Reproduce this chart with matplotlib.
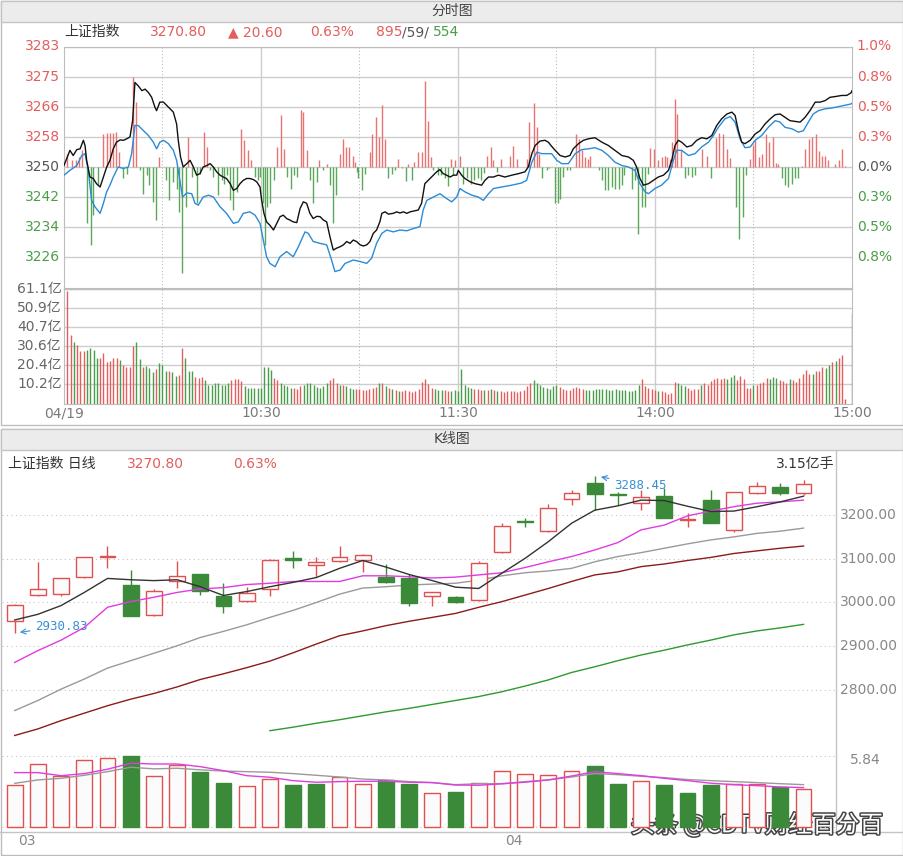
import matplotlib.pyplot as plt
import matplotlib.patheffects as pe
from matplotlib.patches import Rectangle
import numpy as np

plt.rcParams['font.family'] = ['DejaVu Sans', 'Noto Sans CJK SC']

# ---------------- intraday (分时) ----------------
prev_close = 3250.20
last_price = 3270.80
change = 20.60
change_pct = '0.63%'
breadth = ['895', '59', '554']

pct_steps = [1.0, 0.75, 0.5, 0.25, 0.0, -0.25, -0.5, -0.75]
left_labels = ['3283', '3275', '3266', '3258', '3250', '3242', '3234', '3226']
right_labels = ['1.0%', '0.8%', '0.5%', '0.3%', '0.0%', '0.3%', '0.5%', '0.8%']
vol_labels = ['61.1亿', '50.9亿', '40.7亿', '30.6亿', '20.4亿', '10.2亿']
vol_levels = [61.1, 50.9, 40.7, 30.6, 20.4, 10.2]
time_labels = ['04/19', '10:30', '11:30', '14:00', '15:00']
time_pos = [0, 60, 120, 180, 240]

# index line (black), minutes since 9:30 (afternoon continues at 120)
idx_min = [0, 1.8, 2.8, 3.9, 4.9, 5.9, 6.4, 6.9, 7.9, 8.9, 9.9, 11.0, 12.0, 13.0, 14.0, 15.0, 16.0,
           17.1, 18.1, 19.1, 20.1, 20.9, 21.6, 22.6, 23.7, 24.7, 25.7, 26.7, 27.7, 28.2, 29.2, 30.3,
           31.3, 32.3, 33.3, 34.3, 34.8, 35.5, 36.3, 37.4, 38.4, 39.4, 40.4, 41.4, 42.4, 43.5, 44.5,
           45.5, 46.5, 47.5, 48.5, 49.5, 50.6, 51.6, 52.6, 53.6, 54.6, 55.6, 56.6, 57.7, 58.7, 59.7,
           60.2, 60.9, 61.7, 62.7, 63.8, 64.8, 65.8, 66.8, 67.8, 68.8, 69.8, 70.9, 71.9, 72.9, 73.9,
           74.9, 75.9, 77.0, 78.0, 79.0, 80.0, 81.0, 82.0, 83.0, 84.1, 85.1, 86.1, 87.1, 88.1, 89.1,
           90.2, 91.2, 92.2, 93.2, 94.2, 95.2, 96.2, 96.8, 97.8, 98.8, 100.3, 101.3, 102.3, 103.4,
           104.4, 105.4, 106.4, 107.9, 108.9, 109.9, 111.5, 112.5, 113.5, 114.5, 115.5, 116.5, 117.6,
           118.6, 119.6, 120.1, 121.1, 122.1, 123.7, 125.2, 127.2, 128.2, 129.3, 130.8, 132.3, 134.3,
           136.4, 138.4, 140.4, 141.4, 142.5, 143.5, 145.0, 146.5, 147.5, 148.5, 149.6, 151.1, 152.6,
           154.1, 155.1, 156.7, 158.2, 159.7, 161.7, 163.8, 165.8, 167.8, 169.9, 171.9, 173.4, 174.4,
           175.4, 176.5, 178.0, 179.5, 181.0, 182.6, 184.1, 185.1, 186.1, 187.1, 188.1, 189.7, 191.2,
           192.7, 194.2, 195.8, 197.3, 198.8, 200.3, 201.9, 203.4, 204.4, 205.4, 206.4, 207.4, 209.0,
           210.5, 212.0, 213.5, 215.1, 216.6, 218.1, 219.6, 221.1, 222.7, 224.2, 225.7, 227.2, 228.8,
           230.3, 231.8, 233.3, 234.9, 236.9, 238.4, 239.7, 240]
idx_val = [3250.6, 3254.7, 3253.3, 3254.9, 3255.1, 3257.4, 3256.0, 3252.0, 3247.5, 3247.1, 3245.7,
           3244.8, 3247.5, 3250.2, 3252.0, 3255.1, 3256.9, 3257.5, 3257.4, 3257.8, 3258.3, 3262.7,
           3273.0, 3272.1, 3270.8, 3271.2, 3270.3, 3269.0, 3266.3, 3265.4, 3267.7, 3267.7, 3266.8,
           3265.9, 3265.0, 3261.8, 3257.4, 3252.9, 3250.2, 3251.1, 3252.0, 3250.2, 3248.0, 3248.4,
           3250.2, 3250.6, 3251.1, 3250.2, 3248.9, 3248.0, 3247.5, 3247.1, 3245.7, 3243.9, 3244.4,
           3245.7, 3246.6, 3247.1, 3247.1, 3246.8, 3246.2, 3244.8, 3241.2, 3237.7, 3235.4, 3234.5,
           3233.2, 3235.0, 3236.8, 3237.2, 3236.3, 3235.9, 3235.4, 3235.2, 3239.0, 3240.8, 3240.4,
           3237.7, 3236.3, 3236.9, 3236.8, 3235.9, 3235.4, 3231.4, 3227.8, 3228.3, 3228.7, 3229.2,
           3230.1, 3229.6, 3230.5, 3230.1, 3229.2, 3228.9, 3229.2, 3230.1, 3232.3, 3233.2, 3235.4,
           3237.7, 3238.1, 3237.5, 3237.7, 3238.1, 3237.8, 3238.1, 3237.7, 3238.1, 3238.3, 3238.6,
           3240.4, 3245.7, 3247.1, 3248.0, 3248.9, 3249.5, 3248.4, 3248.0, 3247.5, 3248.0, 3248.0,
           3249.3, 3248.0, 3247.1, 3246.2, 3245.7, 3245.3, 3246.6, 3247.5, 3247.5, 3248.0, 3247.5,
           3248.0, 3248.4, 3248.9, 3250.2, 3253.8, 3256.0, 3257.2, 3257.4, 3256.9, 3255.8, 3254.7,
           3253.3, 3252.9, 3253.3, 3255.1, 3256.5, 3257.4, 3257.8, 3258.1, 3256.9, 3256.0, 3254.7,
           3253.3, 3252.9, 3252.0, 3250.2, 3247.1, 3245.3, 3245.7, 3246.6, 3247.5, 3248.0, 3249.3,
           3252.0, 3256.0, 3257.4, 3256.9, 3255.6, 3256.0, 3257.4, 3258.1, 3257.8, 3258.7, 3261.4,
           3263.2, 3264.5, 3265.0, 3264.1, 3260.0, 3256.9, 3256.5, 3257.4, 3259.1, 3260.0, 3261.8,
           3263.2, 3264.3, 3264.5, 3263.6, 3262.7, 3262.5, 3262.3, 3263.6, 3265.4, 3267.7, 3267.7,
           3268.1, 3269.0, 3269.2, 3269.5, 3269.5, 3270.2, 3270.8]

# leading line (blue)
lead_min = [0, 1.8, 3.9, 5.4, 6.4, 7.4, 8.4, 9.4, 11.0, 12.0, 13.0, 14.0, 15.0, 16.5, 18.1, 19.6,
            20.6, 21.6, 22.6, 24.2, 25.7, 27.2, 28.2, 29.2, 30.3, 31.8, 33.3, 34.3, 35.3, 36.1, 37.4,
            38.9, 39.9, 40.9, 42.4, 44.0, 45.5, 47.5, 49.5, 51.6, 53.1, 54.6, 56.6, 58.2, 59.7, 60.7,
            61.7, 62.7, 64.3, 65.8, 67.8, 69.8, 71.4, 73.4, 74.4, 75.9, 78.0, 80.0, 81.5, 82.5, 84.1,
            85.6, 88.1, 90.2, 92.2, 93.7, 95.2, 96.8, 98.3, 100.3, 102.3, 104.4, 106.4, 108.4, 109.4,
            110.5, 112.5, 114.5, 116.5, 118.1, 119.6, 120.6, 122.1, 124.2, 126.2, 127.7, 129.3, 130.8,
            133.3, 136.4, 139.4, 140.9, 142.5, 144.0, 145.5, 148.5, 150.1, 151.6, 153.6, 155.7, 157.7,
            159.7, 161.7, 163.8, 165.8, 167.8, 169.9, 171.9, 173.9, 175.4, 177.0, 178.0, 180.0, 182.0,
            184.1, 185.6, 186.6, 188.1, 190.2, 192.2, 194.2, 196.3, 197.8, 199.3, 201.3, 202.9, 204.4,
            205.9, 207.4, 209.0, 210.5, 212.5, 214.5, 216.6, 218.1, 219.6, 221.7, 223.7, 225.2, 226.7,
            228.2, 229.8, 231.8, 233.8, 235.9, 237.9, 239.7, 240]
lead_val = [3248.0, 3249.3, 3250.6, 3253.3, 3253.8, 3249.3, 3241.2, 3239.5, 3237.7, 3240.4, 3243.5,
            3245.3, 3247.5, 3250.2, 3249.8, 3250.2, 3253.8, 3261.4, 3261.4, 3260.0, 3258.7, 3256.9,
            3255.1, 3256.9, 3257.4, 3256.5, 3254.7, 3252.0, 3246.6, 3242.1, 3243.2, 3243.0, 3240.4,
            3239.9, 3242.1, 3242.6, 3242.1, 3239.5, 3237.7, 3235.0, 3235.4, 3237.7, 3238.1, 3237.2,
            3235.0, 3230.5, 3226.0, 3224.2, 3223.3, 3226.0, 3227.4, 3226.0, 3228.7, 3232.7, 3232.3,
            3230.1, 3229.6, 3229.2, 3225.1, 3222.0, 3222.4, 3224.2, 3225.1, 3224.7, 3224.2, 3225.6,
            3229.6, 3232.3, 3233.2, 3232.7, 3233.2, 3233.0, 3233.6, 3234.1, 3238.6, 3241.2, 3242.1,
            3243.0, 3241.7, 3240.8, 3242.1, 3244.4, 3243.5, 3242.6, 3242.1, 3241.2, 3243.0, 3244.4,
            3244.8, 3245.3, 3245.9, 3246.6, 3251.5, 3254.2, 3253.8, 3253.8, 3252.0, 3251.1, 3251.1,
            3253.8, 3254.9, 3255.1, 3255.4, 3254.7, 3253.3, 3251.5, 3250.6, 3250.2, 3249.3, 3245.7,
            3243.5, 3243.0, 3244.4, 3245.3, 3247.1, 3252.0, 3254.7, 3254.7, 3253.3, 3253.8, 3255.6,
            3256.9, 3258.7, 3260.9, 3263.2, 3263.8, 3262.3, 3257.8, 3255.4, 3255.6, 3257.4, 3258.7,
            3260.9, 3262.7, 3262.3, 3260.9, 3260.5, 3259.6, 3260.0, 3262.3, 3264.5, 3265.4, 3265.9,
            3266.1, 3266.5, 3266.9, 3267.2, 3267.4]

# buy/sell strength bars around the previous close (points)
bar_min = [1.0, 2.3, 3.7, 4.7, 5.5, 12.0, 13.0, 14.0, 15.0, 15.8, 16.9, 21.1, 21.9, 28.9, 37.9, 42.6,
           43.7, 53.8, 54.9, 56.1, 57.0, 64.8, 66.0, 67.0, 72.1, 72.7, 73.9, 77.8, 80.2, 84.1, 85.1,
           85.9, 86.9, 87.9, 88.6, 93.2, 93.9, 94.9, 96.0, 96.8, 97.8, 101.8, 104.9, 106.6, 107.9,
           108.9, 110.0, 111.0, 111.7, 117.8, 119.1,
           6.9, 8.2, 8.9, 10.5, 18.1, 19.1, 23.1, 24.2, 25.2, 26.0, 27.0, 28.0, 31.1, 32.1, 33.1, 34.3,
           35.0, 36.0, 37.2, 38.9, 40.4, 41.4, 44.5, 45.5, 47.0, 48.0, 48.7, 49.7, 50.6, 51.6, 52.6,
           58.2, 59.0, 59.7, 60.5, 61.2, 61.9, 62.7, 64.1, 67.8, 69.0, 70.1, 70.9, 74.9, 75.9, 77.0,
           79.0, 81.0, 81.8, 82.8, 89.1, 89.6, 90.7, 91.7, 98.8, 99.8, 100.8, 102.9, 104.2, 105.9,
           112.5, 114.0, 114.8, 116.1, 117.1, 118.6,
           120.6, 128.7, 130.0, 130.8, 133.1, 135.9, 136.9, 137.9, 140.9, 141.6, 143.0, 144.0, 144.7,
           155.9, 156.9, 157.7, 158.7, 159.5, 160.3, 178.5, 179.8, 181.0, 182.0, 182.9, 183.8, 184.6,
           185.1, 186.1, 186.8, 187.9, 194.4, 195.8, 198.5, 199.6, 200.6, 201.9, 202.9, 209.0, 209.8,
           210.5, 211.7, 212.7, 213.7, 214.7, 215.8, 216.8, 217.6, 224.7, 225.7, 226.9, 227.9, 229.0,
           229.8, 230.8, 231.8, 232.6, 234.7, 235.9, 236.9, 237.9,
           121.6, 122.7, 124.0, 125.0, 126.0, 127.0, 128.0, 131.8, 145.7, 147.0, 147.8, 149.6, 150.4,
           151.1, 152.1, 153.1, 154.1, 162.8, 163.8, 164.8, 165.8, 166.8, 167.8, 168.9, 169.9, 170.7,
           172.9, 173.9, 174.9, 176.0, 177.0, 177.8, 189.2, 190.2, 191.2, 192.2, 197.1, 204.7, 205.7,
           206.7, 207.7, 218.6, 219.6, 220.6, 221.6, 222.7, 223.7]
bar_val = [3.6, 1.8, 1.8, 2.7, 4.5, 9.0, 9.1, 9.1, 9.1, 9.4, 4.0, 24.4, 17.5, 2.7, 8.2, 9.4,
           5.4, 10.3, 7.3, 4.5, 1.8, 5.4, 14.1, 4.9, 15.4, 14.8, 4.7, 2.0, 0.9, 3.6, 7.6,
           5.4, 5.4, 3.1, 1.3, 4.0, 8.8, 13.4, 8.2, 16.8, 7.6, 2.2, 0.7, 1.3, 4.0,
           4.0, 23.3, 12.5, 2.7, 2.2, 2.0,
           -15.2, -21.0, -13.0, -4.9, -3.1, -1.8, -0.9, -7.2, -2.2, -4.9, -9.4, -14.3, -3.6, -9.0,
           -4.0, -5.8, -12.1, -28.6, -10.7, -2.7, -9.8, -1.8, -0.9, -2.7, -7.6, -3.6, -4.5, -2.2,
           -9.0, -11.6, -6.7, -2.7, -3.6, -2.7, -9.8, -21.0, -10.7, -9.8, -3.6, -2.7, -5.8, -2.2,
           -2.7, -3.6, -9.8, -4.0, -0.9, -4.9, -15.2, -7.6, -1.3, -3.1, -6.3, -1.8, -2.9, -1.8,
           -0.9, -0.4, -3.8, -3.6, -0.9, -2.2, -2.2, -3.1, -5.1, -2.2,
           3.1, 3.1, 5.4, 1.8, 2.2, 3.1, 5.6, 2.2, 2.2, 12.1, 17.2, 10.9, 3.6,
           9.0, 7.6, 4.5, 2.7, 2.2, 2.9, 5.2, 4.9, 2.0, 2.7, 3.1, 2.7, 2.2,
           6.7, 18.4, 14.3, 4.5, 4.9, 3.1, 7.9, 9.1, 8.8, 4.9, 2.5, 2.2, 5.8,
           7.2, 2.7, 3.6, 9.0, 6.7, 8.1, 1.1, 0.9, 0.4, 4.9, 7.6, 8.1, 9.0,
           4.3, 3.1, 3.0, 2.0, 0.9, 1.8, 4.9, 0.4,
           -4.5, -3.1, -4.5, -3.6, -3.1, -3.6, -1.6, -1.3, -3.1, -0.9, -0.4, -9.8, -9.8,
           -8.5, -2.7, -0.9, -0.9, -0.9, -3.6, -6.3, -6.3, -5.4, -5.8, -5.8, -4.9, -2.2,
           -5.8, -3.6, -18.1, -10.7, -10.7, -1.8, -3.1, -2.2, -2.7, -2.2, -3.1, -10.7, -19.4,
           -13.6, -2.2, -3.1, -4.9, -5.4, -4.5, -3.1, -3.1]

# minute turnover (亿), one bar per minute from 9:31 to 15:00; 'r' up / 'g' down
vol_start = 1
vol_min = [60.2, 36.5, 32.9, 31.2, 27.9, 27.9, 28.5, 29.4, 28.5, 24.4, 24.4, 27.2, 22.3, 22.6, 24.4,
           24.4, 23.1, 20.5, 19.6, 19.6, 30.8, 32.9, 23.7, 19.6, 20.1, 18.7, 16.6, 18.3, 21.4, 20.8,
           17.3, 17.3, 16.9, 14.8, 15.1, 29.7, 24.4, 17.3, 17.3, 14.2, 13.7, 14.2, 12.5, 9.8, 9.8,
           10.7, 11.2, 9.8, 9.8, 10.7, 12.5, 13.0, 13.0, 11.9, 9.4, 8.4, 8.4, 8.4, 8.4, 8.4, 19.6,
           19.6, 17.8, 13.4, 12.5, 10.7, 9.8, 9.4, 8.4, 8.4, 8.0,
           9.4, 9.8, 11.2, 10.7, 9.8, 8.9, 8.4, 9.4, 10.7, 12.5, 13.4,
           11.2, 10.1, 9.8, 9.4, 8.4, 7.7, 8.0, 7.5, 7.1, 7.4, 8.0, 8.4, 9.0,
           10.7, 11.2, 9.4, 8.4, 7.7, 7.1, 6.6, 6.8, 7.1, 6.6, 6.3, 6.8, 7.7,
           11.6, 13.0, 10.2, 8.4, 7.7, 7.1, 7.4, 7.1, 6.8, 6.6, 7.1, 6.8,
           18.3, 9.8, 9.0, 8.4, 8.0, 7.7, 7.4, 7.1, 7.4, 7.7, 7.1, 6.8, 6.6, 6.3, 6.6, 6.8, 6.6, 6.3,
           6.6, 7.1, 9.4, 11.2, 12.5, 10.7, 9.8, 9.0, 8.4, 8.0, 9.4, 9.8, 8.9, 8.0, 7.4, 7.1,
           8.4, 9.0, 8.4, 7.7, 7.4, 7.1, 7.4, 7.7,
           7.7, 7.7, 7.7, 7.1, 7.1, 8.0, 7.1, 7.1, 7.1, 6.6, 6.6, 7.1, 10.1, 13.0, 9.4, 8.4, 7.7,
           7.1, 6.6, 6.6, 5.9, 5.3, 5.7, 11.6, 11.2, 10.1, 9.4, 8.4, 7.1, 7.7, 8.0, 9.8, 11.2, 10.1,
           11.9, 13.0, 13.4, 13.0, 13.7, 13.0, 14.2, 15.1, 12.5, 14.8, 13.0, 8.4, 8.4, 9.8, 9.8, 10.7,
           11.6, 13.4, 13.0, 14.2, 13.4, 12.3, 11.9, 11.2, 13.0, 12.3, 11.6, 13.4, 15.5, 17.8, 16.0,
           16.0, 17.3, 17.3, 19.6, 19.0, 20.5, 21.9, 22.6, 24.4, 25.8, 2.3, 0.0, 48.1]
vol_dir = ('rrgrrrggggrrrrrrgrrrrggrgggrgggrggrrgggrrrggggggggrrrrgggggggggrrgggg'
           'rrrggggggggrrrgrgggrrrrrrrgrgrgrgrrrrrrrrrrgggrrg'
           'ggggggrrrgrgrgrrrrrrrrrrggggggggrrrrrrrrgg'
           'gggggggggggggggrrrrrgrrrrrgggrrrrgrrrrrrrgggrrrrrgrrrrgggrrrgrrrrrrgrrrggrgrr')

# ---------------- daily K line (日线) ----------------
k_open = [2958, 3017, 3019, 3059, 3103, 3041, 2972, 3050, 3064, 3015, 3004, 3030, 3101, 3086, 3095,
          3097, 3059, 3057, 3014, 3013, 3006, 3115, 3187, 3163, 3236, 3274, 3248, 3227, 3243, 3188,
          3234, 3166, 3250, 3263, 3250]
k_high = [2997, 3093, 3057, 3105, 3130, 3075, 3030, 3094, 3066, 3044, 3035, 3100, 3117, 3104, 3128,
          3110, 3089, 3065, 3025, 3014, 3094, 3181, 3192, 3224, 3257, 3288.45, 3253, 3257, 3261, 3204,
          3257, 3253, 3276, 3272, 3280]
k_low = [2930.83, 3014, 3015, 3055, 3078, 2969, 2968, 3034, 3017, 2975, 3000, 3014, 3079, 3058, 3092,
         3069, 3045, 2992, 2992, 2998, 3004, 3113, 3172, 3160, 3223, 3211, 3223, 3211, 3192, 3173,
         3182, 3162, 3247, 3246, 3245]
k_close = [2995, 3030, 3055, 3104, 3106, 2970, 3027, 3060, 3027, 2991, 3022, 3096, 3098, 3093, 3104,
           3108, 3046, 2999, 3024, 3000, 3091, 3175, 3184, 3217, 3250, 3248, 3245, 3242, 3192, 3191,
           3182, 3253, 3266, 3250.2, 3270.8]
ma5 = [2960, 2973, 2993, 3023, 3055, 3052, 3050, 3052, 3036, 3016, 3025, 3036, 3046, 3057, 3078, 3096,
       3081, 3064, 3050, 3035, 3032, 3067, 3101, 3139, 3181, 3211, 3221, 3234, 3233, 3220, 3208, 3209,
       3219, 3230, 3243]
ma10 = [2863, 2890, 2914, 2943, 2989, 3002, 3012, 3023, 3031, 3034, 3041, 3044, 3048, 3048, 3048,
        3061, 3061, 3059, 3056, 3058, 3063, 3068, 3080, 3093, 3105, 3120, 3137, 3166, 3177, 3198,
        3209, 3219, 3227, 3230, 3234]
ma20 = [2753, 2776, 2802, 2825, 2850, 2867, 2884, 2901, 2920, 2934, 2949, 2966, 2982, 3000, 3019,
        3033, 3036, 3040, 3042, 3044, 3051, 3061, 3068, 3072, 3078, 3093, 3105, 3114, 3124, 3134,
        3143, 3150, 3158, 3163, 3170]
ma30 = [2696, 2711, 2730, 2747, 2764, 2779, 2792, 2807, 2824, 2837, 2851, 2866, 2885, 2905, 2924,
        2935, 2947, 2957, 2966, 2975, 2989, 3002, 3017, 3032, 3048, 3063, 3070, 3082, 3088, 3096,
        3103, 3112, 3118, 3124, 3129]
ma60_start = 11
ma60 = [2707, 2715, 2724, 2732, 2741, 2750, 2758, 2767, 2776, 2785, 2796, 2809, 2823, 2840, 2853,
        2867, 2880, 2891, 2903, 2914, 2926, 2935, 2942, 2950]
k_vol = [3.43, 5.21, 4.17, 5.49, 5.70, 5.84, 4.17, 5.13, 4.52, 3.65, 3.35, 3.98, 3.48, 3.56, 4.11,
         3.56, 3.84, 3.51, 2.82, 2.87, 3.62, 4.58, 4.39, 4.25, 4.58, 5.02, 3.56, 3.78, 3.48, 2.82,
         3.48, 3.56, 3.56, 3.29, 3.15]
k_vol_dir = 'rrrrrgrrggrrggrrggrgrrrrrggrgggrrgr'
vma5 = [4.47, 4.47, 4.22, 4.39, 4.75, 5.24, 5.18, 5.18, 4.96, 4.63, 4.22, 4.09, 3.81, 3.68, 3.73,
        3.76, 3.76, 3.68, 3.65, 3.45, 3.43, 3.55, 3.68, 3.87, 4.19, 4.55, 4.39, 4.22, 4.00, 3.81,
        3.60, 3.48, 3.40, 3.29, 3.24]
vma10 = [3.59, 3.87, 4.00, 4.25, 4.55, 4.91, 4.78, 4.83, 4.70, 4.60, 4.55, 4.50, 4.39, 4.25, 4.11,
         3.94, 3.87, 3.73, 3.65, 3.48, 3.56, 3.56, 3.73, 3.87, 4.11, 4.39, 4.30, 4.17, 4.06, 3.90,
         3.81, 3.73, 3.65, 3.56, 3.48]
k_ticks = [3200, 3100, 3000, 2900, 2800]
month_labels = ['03', '04']
month_pos = [0, 21]

RED = '#e35d5d'
GREEN = '#4a9e4a'
DGREEN = '#3a8a3a'
GRID = '#cdcdcd'
TXT = '#333333'
LBL = '#7a7a7a'

W, H = 904, 856
fig = plt.figure(figsize=(W / 100, H / 100), dpi=100)
fig.patch.set_facecolor('white')


def px_box(x0, y0, x1, y1):
    return [x0 / W, 1 - y1 / H, (x1 - x0) / W, (y1 - y0) / H]


bg = fig.add_axes([0, 0, 1, 1])
bg.set_xlim(0, W)
bg.set_ylim(H, 0)
bg.axis('off')

bg.add_patch(Rectangle((0.5, 0.5), W - 1.5, 424, fc='white', ec='#bdbdbd', lw=1))
bg.add_patch(Rectangle((0.5, 428.5), W - 1.5, 426, fc='white', ec='#bdbdbd', lw=1))
for y0, y1, title in [(0.5, 22, '分时图'), (428.5, 450, 'K线图')]:
    bg.add_patch(Rectangle((0.5, y0), W - 1.5, y1 - y0, fc='#ececec', ec='#c4c4c4', lw=1))
    bg.text(W / 2, (y0 + y1) / 2, title, ha='center', va='center', fontsize=10, color='#444444')

# header of intraday panel
hy = 32
bg.text(64, hy, '上证指数', va='center', fontsize=10, color=TXT)
bg.text(150, hy, f'{last_price:.2f}', va='center', fontsize=10, color=RED)
bg.text(228, hy, f'▲ {change:.2f}', va='center', fontsize=10, color=RED)
bg.text(310, hy, change_pct, va='center', fontsize=10, color=RED)
bg.text(376, hy, breadth[0], va='center', fontsize=10, color=RED)
bg.text(402, hy, '/' + breadth[1] + '/', va='center', fontsize=10, color='#555555')
bg.text(433, hy, breadth[2], va='center', fontsize=10, color=GREEN)

# ---- price panel ----
ax1 = fig.add_axes(px_box(64, 46.5, 852, 287.5))
ax1.set_facecolor('none')
ax1.set_xlim(0, 240)
ax1.set_ylim(prev_close * 0.99, prev_close * 1.01)
ax1.set_xticks([])
ax1.set_yticks([])
for s in ax1.spines.values():
    s.set_color('#bdbdbd')
levels = [prev_close * (1 + p / 100) for p in pct_steps]
for lv, ll, rl, p in zip(levels, left_labels, right_labels, pct_steps):
    ax1.axhline(lv, color=GRID, lw=1, zorder=1)
    c = RED if p > 0 else (GREEN if p < 0 else '#555555')
    ax1.text(-0.005, lv, ll, transform=ax1.get_yaxis_transform(), ha='right', va='center',
             fontsize=10, color=c)
    ax1.text(1.006, lv, rl, transform=ax1.get_yaxis_transform(), ha='left', va='center',
             fontsize=10, color=c)

ax2 = fig.add_axes(px_box(64, 289, 852, 403.5))
ax2.set_facecolor('none')
ax2.set_xlim(0, 240)
ax2.set_ylim(0, 61.1)
ax2.set_xticks([])
ax2.set_yticks([])
for s in ax2.spines.values():
    s.set_color('#bdbdbd')
for lv, ll in zip(vol_levels, vol_labels):
    ax2.axhline(lv, color=GRID, lw=1, zorder=1)
    ax2.text(-0.003, lv, ll, transform=ax2.get_yaxis_transform(), ha='right', va='center',
             fontsize=10, color='#666666')
for tp, tl in zip(time_pos, time_labels):
    ax2.text(tp, -0.085, tl, transform=ax2.get_xaxis_transform(), ha='center', va='center',
             fontsize=10, color=LBL)

for ax in (ax1, ax2):
    for m in [60, 120, 180]:
        ax.axvline(m, color=GRID, lw=1, zorder=1)
    for m in [30, 90, 150, 210]:
        ax.axvline(m, color='#bbbbbb', lw=0.8, ls=(0, (1, 2)), zorder=1)

bv = np.array(bar_val)
bm = np.array(bar_min)
ax1.vlines(bm[bv > 0], prev_close, prev_close + bv[bv > 0], colors='#e77373', lw=1, zorder=2)
ax1.vlines(bm[bv < 0], prev_close, prev_close + bv[bv < 0], colors='#5aa85a', lw=1, zorder=2)
ax1.plot(lead_min, lead_val, color='#2a8bd6', lw=1.0, zorder=3)
ax1.plot(idx_min, idx_val, color='#111111', lw=1.0, zorder=4)

vx = np.arange(vol_start, vol_start + len(vol_min))
vcols = [RED if d == 'r' else GREEN for d in vol_dir]
ax2.vlines(vx, 0, vol_min, colors=vcols, lw=1, zorder=2)

# ---- K line panel ----
bg.text(8, 464, '上证指数 日线', va='center', fontsize=10, color=TXT)
bg.text(127, 464, f'{last_price:.2f}', va='center', fontsize=10, color=RED)
bg.text(233, 464, change_pct, va='center', fontsize=10, color=RED)
bg.text(834, 464, f'{k_vol[-1]:.2f}亿手', va='center', ha='right', fontsize=10, color=TXT)

n = len(k_close)
ax3 = fig.add_axes(px_box(2, 452, 836, 742))
ax3.set_facecolor('#fbfbfb')
ax3.set_xlim(-0.547, 35.4)
ax3.set_ylim(2681.1, 3344)
ax3.axis('off')
for t in k_ticks:
    ax3.axhline(t, color='#c4c4c4', lw=0.8, ls=(0, (1, 3)), zorder=1)
    ax3.text(1.005, t, f'{t:.2f}', transform=ax3.get_yaxis_transform(), ha='left', va='center',
             fontsize=10, color='#888888')

bw = 0.68
for i in range(n):
    o, h, l, c = k_open[i], k_high[i], k_low[i], k_close[i]
    up = c >= o
    col = '#e05050' if up else DGREEN
    ax3.vlines(i, l, h, colors=col, lw=1, zorder=3)
    body = max(abs(c - o), 1.6)
    ax3.add_patch(Rectangle((i - bw / 2, min(o, c)), bw, body, fc='#fbfbfb' if up else col,
                            ec=col, lw=1, zorder=4))

xs = np.arange(n)
ax3.plot(xs, ma30, color='#8b1c1c', lw=1, zorder=2)
ax3.plot(xs, ma20, color='#9a9a9a', lw=1, zorder=2)
ax3.plot(np.arange(ma60_start, n), ma60, color='#2e9a2e', lw=1, zorder=2)
ax3.plot(xs, ma10, color='#e03ce0', lw=1, zorder=5)
ax3.plot(xs, ma5, color='#333333', lw=1, zorder=5)

lo = int(np.argmin(k_low))
hi = int(np.argmax(k_high))
blue = '#3a8fd6'
ax3.annotate(f'{k_low[lo]:.2f}', xy=(lo + 0.1, k_low[lo]), xytext=(lo + 0.9, k_low[lo] + 15),
             fontsize=9, color=blue, family='DejaVu Sans Mono', va='center',
             arrowprops=dict(arrowstyle='->', color=blue, lw=0.8))
ax3.annotate(f'{k_high[hi]:.2f}', xy=(hi + 0.15, k_high[hi]), xytext=(hi + 0.85, k_high[hi] - 20),
             fontsize=9, color=blue, family='DejaVu Sans Mono', va='center',
             arrowprops=dict(arrowstyle='->', color=blue, lw=0.8))

ax4 = fig.add_axes(px_box(2, 745, 836, 832))
ax4.set_facecolor('#fbfbfb')
ax4.set_xlim(-0.547, 35.4)
ax4.set_ylim(-0.41, 6.74)
ax4.axis('off')
for t in [max(k_vol), 0]:
    ax4.axhline(t, color='#c4c4c4', lw=0.8, ls=(0, (1, 3)), zorder=1)
ax4.text(1.035, max(k_vol) - 0.33, f'{max(k_vol):.2f}', transform=ax4.get_yaxis_transform(),
         ha='center', va='center', fontsize=10, color='#888888')
for i in range(n):
    up = k_vol_dir[i] == 'r'
    col = '#e05050' if up else DGREEN
    ax4.add_patch(Rectangle((i - bw / 2, 0), bw, k_vol[i], fc='#fbfbfb' if up else col,
                            ec=col, lw=1, zorder=3))
ax4.plot(xs, vma10, color='#9a9a9a', lw=1, zorder=4)
ax4.plot(xs, vma5, color='#e03ce0', lw=1, zorder=5)

bg.plot([0, W], [832, 832], color='#c4c4c4', lw=1)
bg.plot([836, 836], [450, 832], color='#c4c4c4', lw=1)
for mp, ml in zip(month_pos, month_labels):
    bg.text(14.7 + 23.2 * mp + 3, 841, ml, va='center', ha='left', fontsize=10, color='#888888')

bg.text(883, 825, '头条 @CDTV财经百分百', ha='right', va='center', fontsize=17, color='white',
        family=['Noto Sans CJK SC'], zorder=10,
        path_effects=[pe.withStroke(linewidth=2.2, foreground='#444444')])

fig.savefig('out.png', dpi=100)
